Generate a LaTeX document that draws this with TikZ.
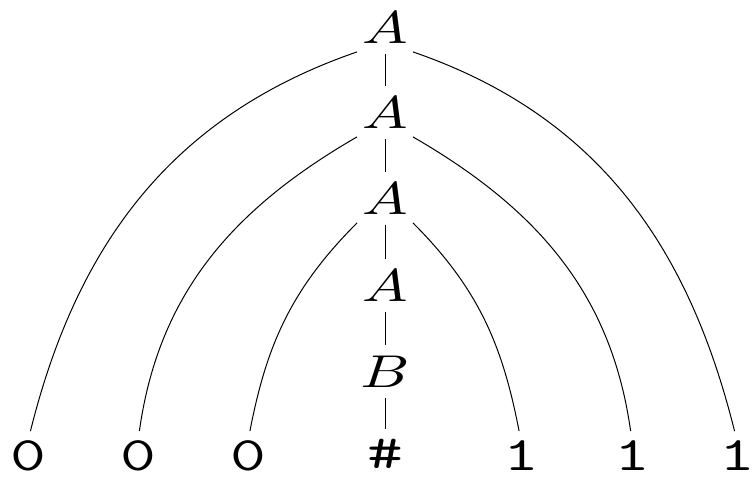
\documentclass[tikz,border=0pt]{standalone}
\usepackage{graphicx}
\newcommand{\widetxt}[1]{\scalebox{6.07}[4.6]{#1}}
\newcommand{\wideleaf}[1]{\scalebox{1.45}[1]{#1}}
\begin{document}
\begin{tikzpicture}[x=1pt,y=1pt,
  lab/.style={inner xsep=5pt, inner ysep=8pt, font=\normalsize},
  leaf/.style={inner sep=0pt, anchor=base, font=\fontsize{48}{52}\selectfont\ttfamily},
  edge/.style={line width=1pt},
  stem/.style={edge, shorten <=2pt, shorten >=3pt},
  curve/.style={edge, shorten >=10pt}]
\useasboundingbox (0,0) rectangle (756,479);
\node[lab] (a1) at (385,451) {\widetxt{$A$}};
\node[lab] (a2) at (385,366) {\widetxt{$A$}};
\node[lab] (a3) at (385,280) {\widetxt{$A$}};
\node[lab] (a4) at (385,193) {\widetxt{$A$}};
\node[lab] (b)  at (385,107) {\widetxt{$B$}};
\node[leaf] (z1) at (28,8)  {\wideleaf{0}};
\node[leaf] (z2) at (138,8) {\wideleaf{0}};
\node[leaf] (z3) at (248,8) {\wideleaf{0}};
\node[leaf] (h)  at (385,10) {\wideleaf{\#}};
\node[leaf] (o1) at (521,8) {\wideleaf{1}};
\node[leaf] (o2) at (632,8) {\wideleaf{1}};
\node[leaf] (o3) at (737,8) {\wideleaf{1}};
\draw[stem] (a1) -- (a2);
\draw[stem] (a2) -- (a3);
\draw[stem] (a3) -- (a4);
\draw[stem] (a4) -- (b);
\draw[edge, shorten <=2pt, shorten >=10pt] (b) -- (h.north);
\draw[curve] (a1.south west) to[out=199,in=76] (z1.north);
\draw[curve] (a2.south west) to[out=210,in=82] (z2.north);
\draw[curve] (a3.south west) to[out=225,in=79] (z3.north);
\draw[curve] (a1.south east) to[out=-19,in=104] (o3.north);
\draw[curve] (a2.south east) to[out=-30,in=98] (o2.north);
\draw[curve] (a3.south east) to[out=-45,in=101] (o1.north);
\end{tikzpicture}
\end{document}
